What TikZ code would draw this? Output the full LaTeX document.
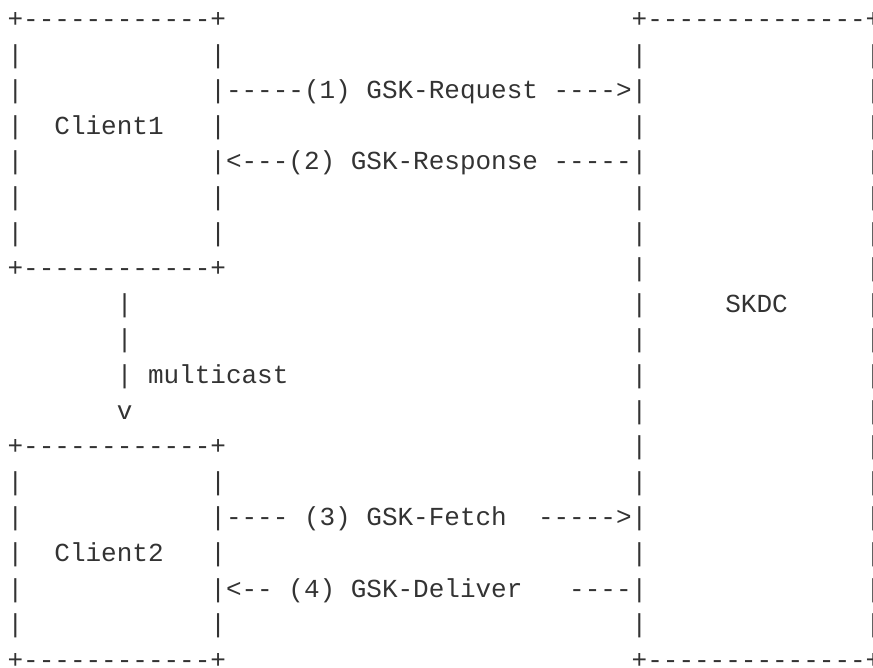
\documentclass[tikz,border=0pt]{standalone}
\usepackage{fontspec}
\setmonofont{Liberation Mono}
\definecolor{ink}{HTML}{333333}
\newcommand\gap[1]{\hspace*{#1\fontcharwd\font`\M}}
\tikzset{
  asciirow/.style={anchor=base west, inner sep=0pt, outer sep=0pt,
    font=\ttfamily\fontsize{26}{26}\selectfont, text=ink}
}
\begin{document}
\begin{tikzpicture}[x=1pt,y=1pt]
\useasboundingbox (0,0) rectangle (873,-667);
\clip (0,0) rectangle (873,-667);
\def\xo{7.6}
\def\yo{27.5}
\def\dy{35.6}
\node[asciirow] (r0) at (\xo,{-\yo-0*\dy}) {+------------+\gap{26}+--------------+};
\node[asciirow] (r1) at (\xo,{-\yo-1*\dy}) {|\gap{12}|\gap{26}|\gap{14}|};
\node[asciirow] (r2) at (\xo,{-\yo-2*\dy}) {|\gap{12}|-----(1)\gap{1}GSK-Request\gap{1}---->|\gap{14}|};
\node[asciirow] (r3) at (\xo,{-\yo-3*\dy}) {|\gap{2}Client1\gap{3}|\gap{26}|\gap{14}|};
\node[asciirow] (r4) at (\xo,{-\yo-4*\dy}) {|\gap{12}|<---(2)\gap{1}GSK-Response\gap{1}-----|\gap{14}|};
\node[asciirow] (r5) at (\xo,{-\yo-5*\dy}) {|\gap{12}|\gap{26}|\gap{14}|};
\node[asciirow] (r6) at (\xo,{-\yo-6*\dy}) {|\gap{12}|\gap{26}|\gap{14}|};
\node[asciirow] (r7) at (\xo,{-\yo-7*\dy}) {+------------+\gap{26}|\gap{14}|};
\node[asciirow] (r8) at (\xo,{-\yo-8*\dy}) {\gap{7}|\gap{32}|\gap{5}SKDC\gap{5}|};
\node[asciirow] (r9) at (\xo,{-\yo-9*\dy}) {\gap{7}|\gap{32}|\gap{14}|};
\node[asciirow] (r10) at (\xo,{-\yo-10*\dy}) {\gap{7}|\gap{1}multicast\gap{22}|\gap{14}|};
\node[asciirow] (r11) at (\xo,{-\yo-11*\dy}) {\gap{7}v\gap{32}|\gap{14}|};
\node[asciirow] (r12) at (\xo,{-\yo-12*\dy}) {+------------+\gap{26}|\gap{14}|};
\node[asciirow] (r13) at (\xo,{-\yo-13*\dy}) {|\gap{12}|\gap{26}|\gap{14}|};
\node[asciirow] (r14) at (\xo,{-\yo-14*\dy}) {|\gap{12}|----\gap{1}(3)\gap{1}GSK-Fetch\gap{2}----->|\gap{14}|};
\node[asciirow] (r15) at (\xo,{-\yo-15*\dy}) {|\gap{2}Client2\gap{3}|\gap{26}|\gap{14}|};
\node[asciirow] (r16) at (\xo,{-\yo-16*\dy}) {|\gap{12}|<--\gap{1}(4)\gap{1}GSK-Deliver\gap{3}----|\gap{14}|};
\node[asciirow] (r17) at (\xo,{-\yo-17*\dy}) {|\gap{12}|\gap{26}|\gap{14}|};
\node[asciirow] (r18) at (\xo,{-\yo-18*\dy}) {+------------+\gap{26}+--------------+};
\end{tikzpicture}
\end{document}
